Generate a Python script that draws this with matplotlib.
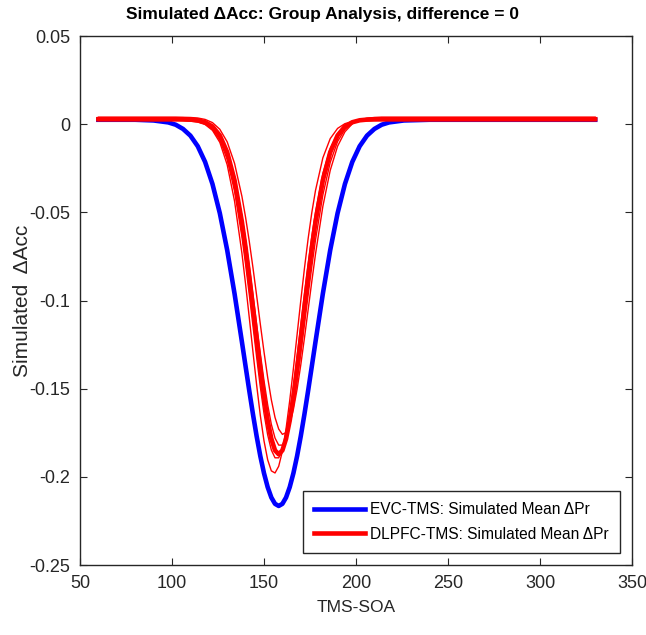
import matplotlib
matplotlib.use('Agg')
import matplotlib.pyplot as plt

# TMS onset asynchrony (ms) shared by all curves
soa = [60, 80, 90, 98,
       102, 106, 110, 114, 118, 122, 126, 130, 134, 138,
       140, 142, 144, 146, 148, 150, 152, 154, 156, 158,
       160, 162, 164, 166, 168, 170, 172, 174, 176, 178,
       182, 186, 190, 194, 198, 202, 206, 210, 214,
       218, 226, 240, 280, 330]

# EVC-TMS simulated mean change in accuracy
evc = [0.0025, 0.0025, 0.0021, 0.0010,
       -0.0003, -0.0027, -0.0065, -0.0125, -0.0214, -0.0339, -0.0505, -0.0714, -0.0961, -0.1234,
       -0.1373, -0.1511, -0.1644, -0.1769, -0.1882, -0.1979, -0.2058, -0.2117, -0.2153, -0.2165,
       -0.2153, -0.2117, -0.2058, -0.1979, -0.1882, -0.1769, -0.1644, -0.1511, -0.1373, -0.1234,
       -0.0961, -0.0714, -0.0505, -0.0339, -0.0214, -0.0125, -0.0065, -0.0027, -0.0003,
       0.0010, 0.0021, 0.0025, 0.0025, 0.0025]

# DLPFC-TMS simulated mean (thick line)
dlpfc_mean = [0.0028, 0.0028, 0.0028, 0.0028,
              0.0028, 0.0028, 0.0026, 0.0022, 0.0011, -0.0013, -0.0064, -0.0159, -0.0318, -0.0554,
              -0.0700, -0.0863, -0.1036, -0.1213, -0.1385, -0.1544, -0.1680, -0.1784, -0.1850, -0.1872,
              -0.1850, -0.1784, -0.1680, -0.1544, -0.1385, -0.1213, -0.1036, -0.0863, -0.0700, -0.0554,
              -0.0318, -0.0159, -0.0064, -0.0013, 0.0011, 0.0022, 0.0026, 0.0028, 0.0028,
              0.0028, 0.0028, 0.0028, 0.0028, 0.0028]

# DLPFC-TMS individual simulation runs (thin lines)
dlpfc_run1 = [0.0020, 0.0020, 0.0020, 0.0020,
              0.0020, 0.0019, 0.0017, 0.0012, -0.0002, -0.0035, -0.0103, -0.0230, -0.0436, -0.0731,
              -0.0907, -0.1096, -0.1290, -0.1478, -0.1651, -0.1795, -0.1903, -0.1966, -0.1978, -0.1940,
              -0.1855, -0.1727, -0.1567, -0.1385, -0.1193, -0.1001, -0.0817, -0.0649, -0.0501, -0.0376,
              -0.0191, -0.0082, -0.0024, 0.0003, 0.0014, 0.0018, 0.0020, 0.0020, 0.0020,
              0.0020, 0.0020, 0.0020, 0.0020, 0.0020]
dlpfc_run2 = [0.0040, 0.0040, 0.0040, 0.0040,
              0.0040, 0.0039, 0.0038, 0.0035, 0.0027, 0.0009, -0.0029, -0.0100, -0.0222, -0.0409,
              -0.0528, -0.0664, -0.0813, -0.0971, -0.1133, -0.1290, -0.1436, -0.1563, -0.1663, -0.1729,
              -0.1759, -0.1749, -0.1701, -0.1617, -0.1503, -0.1365, -0.1212, -0.1052, -0.0891, -0.0737,
              -0.0466, -0.0262, -0.0125, -0.0043, 0.0002, 0.0024, 0.0034, 0.0038, 0.0040,
              0.0040, 0.0040, 0.0040, 0.0040, 0.0040]
dlpfc_run3 = [0.0022, 0.0022, 0.0022, 0.0022,
              0.0022, 0.0021, 0.0019, 0.0014, 0.0001, -0.0029, -0.0090, -0.0200, -0.0379, -0.0638,
              -0.0795, -0.0965, -0.1142, -0.1320, -0.1489, -0.1639, -0.1761, -0.1848, -0.1892, -0.1892,
              -0.1848, -0.1761, -0.1639, -0.1489, -0.1320, -0.1142, -0.0965, -0.0795, -0.0638, -0.0499,
              -0.0280, -0.0138, -0.0055, -0.0011, 0.0009, 0.0017, 0.0019, 0.0021, 0.0022,
              0.0022, 0.0022, 0.0022, 0.0022, 0.0022]
dlpfc_run4 = [0.0035, 0.0035, 0.0035, 0.0035,
              0.0035, 0.0034, 0.0032, 0.0028, 0.0017, -0.0009, -0.0059, -0.0150, -0.0300, -0.0520,
              -0.0656, -0.0807, -0.0968, -0.1135, -0.1300, -0.1454, -0.1591, -0.1702, -0.1780, -0.1820,
              -0.1820, -0.1780, -0.1702, -0.1591, -0.1454, -0.1300, -0.1135, -0.0968, -0.0807, -0.0656,
              -0.0401, -0.0217, -0.0098, -0.0030, 0.0006, 0.0023, 0.0031, 0.0034, 0.0035,
              0.0035, 0.0035, 0.0035, 0.0035, 0.0035]

xticks = [50, 100, 150, 200, 250, 300, 350]
yticks = [-0.25, -0.2, -0.15, -0.1, -0.05, 0, 0.05]
ytick_labels = ['-0.25', '-0.2', '-0.15', '-0.1', '-0.05', '0', '0.05']

plt.rcParams['font.family'] = ['Liberation Sans', 'DejaVu Sans']
dark = (0.15, 0.15, 0.15)

fig = plt.figure(figsize=(6.46, 6.35), dpi=100)
ax = fig.add_axes([0.1238, 0.1102, 0.8545, 0.8331])

# blue first, reds on top like the original
ax.plot(soa, evc, color='blue', lw=3.3, label='EVC-TMS: Simulated Mean \u0394Pr')
for run in [dlpfc_run1, dlpfc_run2, dlpfc_run3, dlpfc_run4]:
    ax.plot(soa, run, color='red', lw=1)
ax.plot(soa, dlpfc_mean, color='red', lw=3.3, label='DLPFC-TMS: Simulated Mean \u0394Pr')

ax.set_xlim(50, 350)
ax.set_ylim(-0.25, 0.05)
ax.set_xticks(xticks)
ax.set_yticks(yticks)
ax.set_yticklabels(ytick_labels)

# MATLAB-like box with inward ticks on all sides
ax.tick_params(direction='in', length=5, width=0.8, top=True, right=True,
               labelsize=13, colors=dark, pad=7)
for s in ax.spines.values():
    s.set_color(dark)
    s.set_linewidth(1)

fig.text(0.5, 1 - 14 / 635, 'Simulated \u0394Acc: Group Analysis, difference = 0',
         fontsize=12.5, fontweight='bold', ha='center', va='center')
ax.set_xlabel('TMS-SOA', fontsize=12.5, color=dark, labelpad=6)
ax.set_ylabel('Simulated  \u0394Acc', fontsize=15, color=dark, labelpad=-2)

leg = ax.legend(loc='lower right', fontsize=11.2, handlelength=3.3, handletextpad=0.3,
                fancybox=False, framealpha=1, borderaxespad=0.8, borderpad=0.7,
                labelspacing=0.6)
leg.get_frame().set_edgecolor(dark)
leg.get_frame().set_linewidth(1)

fig.savefig('out.png', dpi=100)
